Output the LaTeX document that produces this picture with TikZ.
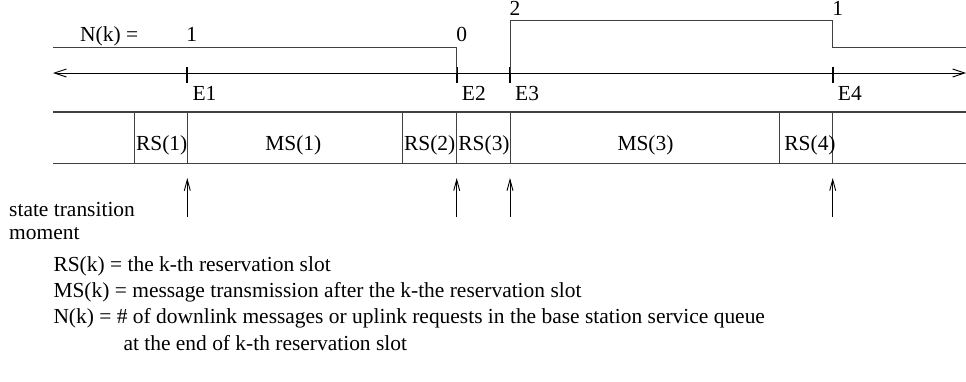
\documentclass[tikz,border=0pt]{standalone}
\usepackage{fontspec}
\setmainfont{Liberation Serif}
\usetikzlibrary{arrows.meta,positioning}
\tikzstyle{timing} = [x=1pt,
                     y=-1pt,
                     font=\fontsize{21.45}{25}\selectfont,
                     every node/.style={inner sep=0pt},
                     >={Straight Barb[length=12pt,width=8pt]}]
\tikzstyle{level} = [draw=black!75, line width=1pt]
\tikzstyle{tick} = [draw=black, line width=1.8pt]
\tikzstyle{slotline} = [draw=black!75, line width=1.6pt]
\tikzstyle{divider} = [draw=black!75, line width=1pt]
\tikzstyle{moment} = [->, draw=black, line width=0.9pt,
                      >={Straight Barb[length=11pt,width=6pt]}]

\begin{document}
\begin{tikzpicture}[timing]
    \useasboundingbox (0,0) rectangle (966,381);
    % time axis and events
    \coordinate (left) at (53,73);
    \coordinate (right) at (966,73);
    \coordinate (E1) at (187.3,73);
    \coordinate (E2) at (456.7,73);
    \coordinate (E3) at (510,73);
    \coordinate (E4) at (832.7,73);
    \coordinate (ticktop) at (0,67);
    \coordinate (tickbot) at (0,83);
    \coordinate (elab) at (0,100);
    \coordinate (hi) at (0,20);
    \coordinate (lo) at (0,47);
    \coordinate (bandtop) at (0,111.7);
    \coordinate (bandbot) at (0,163.3);
    \coordinate (base) at (0,217);
    \coordinate (tip) at (0,178);

    \draw[<->, line width=0.9pt] (left) -- (right);
    \foreach \e in {1,...,4} {
      \draw[tick] (E\e |- ticktop) -- (E\e |- tickbot);
      \node (lab\e) [anchor=base west, xshift=5pt] at (E\e |- elab) {E\e};
      \draw[moment] (E\e |- base) -- (E\e |- tip);
    }

    % N(k) levels
    \draw[level] (left |- lo) -- (E2 |- lo) -- (E2)
                 (E3) -- (E3 |- hi) -- (E4 |- hi) -- (E4 |- lo) -- (right |- lo);
    \node (nk) [anchor=base west] at (80,41.5) {N(k) =};
    \node (n1) [anchor=base] at (191.7,41.5) {1};
    \node (n2) [anchor=base] at (461.7,41.5) {0};
    \node (n3) [anchor=base] at (515,15) {2};
    \node (n4) [anchor=base] at (837.7,15) {1};

    % reservation and message slots
    \draw[slotline] (left |- bandtop) -- (right |- bandtop)
                    (left |- bandbot) -- (right |- bandbot);
    \foreach \x in {134,187.3,402.7,456.7,510,779,832.7}
      \draw[divider] (\x,111.7) -- (\x,163.3);
    \node (rs1) [anchor=base] at (161.7,150) {RS(1)};
    \node (ms1) [anchor=base] at (293.3,150) {MS(1)};
    \node (rs2) [anchor=base] at (429.7,150) {RS(2)};
    \node (rs3) [anchor=base] at (484,150) {RS(3)};
    \node (ms3) [anchor=base] at (645.5,150) {MS(3)};
    \node (rs4) [anchor=base] at (810,150) {RS(4)};

    % legend
    \node (st) [anchor=base west] at (9,216.7) {state transition};
    \node (mo) [anchor=base west] at (9,239.3) {moment};
    \node (l1) [anchor=base west] at (53.3,271.7) {RS(k) = the k-th reservation slot};
    \node (l2) [anchor=base west] at (53.3,297.3) {MS(k) = message transmission after the k-the reservation slot};
    \node (l3) [anchor=base west] at (53.3,323.3) {N(k) = \# of downlink messages or uplink requests in the base station service queue};
    \node (l4) [anchor=base west] at (123.3,350.7) {at the end of k-th reservation slot};
\end{tikzpicture}
\end{document}
